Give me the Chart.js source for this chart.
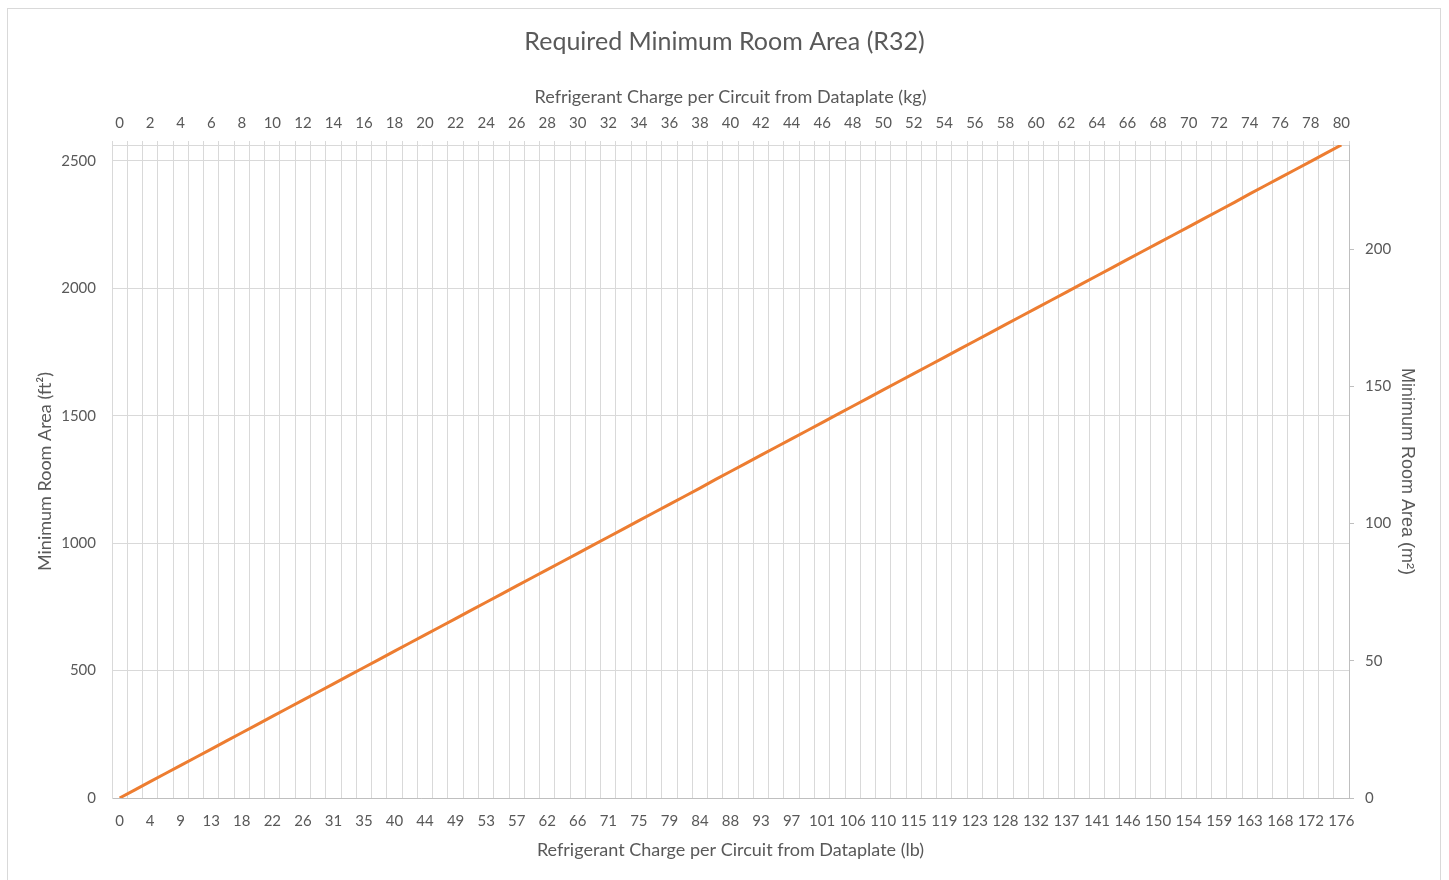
<!DOCTYPE html>
<html>
<head>
<meta charset="utf-8">
<title>Required Minimum Room Area (R32)</title>
<script src="https://cdn.jsdelivr.net/npm/chart.js@4/dist/chart.umd.min.js"></script>
<style>
  html, body { margin: 0; padding: 0; background: #ffffff; overflow: hidden; }
  canvas { display: block; }
</style>
</head>
<body>
<canvas id="chart" width="1449" height="880"></canvas>
<script>
// Refrigerant charge per circuit, one category per kg
const chargeKg = [
  0, 1, 2, 3, 4, 5, 6, 7, 8, 9, 10, 11, 12, 13, 14, 15, 16, 17, 18, 19, 20,
  21, 22, 23, 24, 25, 26, 27, 28, 29, 30, 31, 32, 33, 34, 35, 36, 37, 38, 39, 40,
  41, 42, 43, 44, 45, 46, 47, 48, 49, 50, 51, 52, 53, 54, 55, 56, 57, 58, 59, 60,
  61, 62, 63, 64, 65, 66, 67, 68, 69, 70, 71, 72, 73, 74, 75, 76, 77, 78, 79, 80
];

// Same charges in pounds, labelled on every second kg
const chargeLbLabels = [
  0, 4, 9, 13, 18, 22, 26, 31, 35, 40, 44, 49, 53, 57, 62, 66, 71, 75, 79, 84,
  88, 93, 97, 101, 106, 110, 115, 119, 123, 128, 132, 137, 141, 146, 150, 154,
  159, 163, 168, 172, 176
];

// Required minimum room area (ft²) for each kg of charge
const minAreaFt2 = [
  0, 32, 64, 96, 128, 160, 192, 224, 256, 288, 320,
  352, 384, 416, 448, 480, 512, 544, 576, 608, 640,
  672, 704, 736, 768, 800, 832, 864, 896, 928, 960,
  992, 1024, 1056, 1088, 1120, 1152, 1184, 1216, 1249, 1281,
  1313, 1345, 1377, 1409, 1441, 1473, 1505, 1537, 1569, 1601,
  1633, 1665, 1697, 1729, 1761, 1793, 1825, 1857, 1889, 1921,
  1953, 1985, 2017, 2049, 2081, 2113, 2145, 2177, 2209, 2241,
  2273, 2305, 2337, 2370, 2402, 2434, 2466, 2498, 2530, 2562
];

// Value axes: ft² on the left, m² on the right
const ft2AxisMax = 2562;
const ft2Ticks = [0, 500, 1000, 1500, 2000, 2500];
const m2AxisMax = 238;
const m2Ticks = [0, 50, 100, 150, 200];

const kgLabels = chargeKg.map(String);
const lbLabels = chargeKg.map((kg, i) => (i % 2 === 0 ? String(chargeLbLabels[i / 2]) : ''));

const TEXT = '#595959';
const GRID = '#d9d9d9';
const AXIS = '#bfbfbf';
const LATO = 'Lato, "Open Sans", sans-serif';

const fixedTicks = (values) => (scale) => { scale.ticks = values.map((v) => ({ value: v })); };

const frame = {
  id: 'frame',
  beforeDraw(chart) {
    const ctx = chart.ctx;
    ctx.save();
    ctx.fillStyle = '#ffffff';
    ctx.fillRect(0, 0, chart.width, chart.height);
    ctx.strokeStyle = GRID;
    ctx.lineWidth = 1;
    ctx.strokeRect(7.5, 8.5, 1433, 900);
    ctx.restore();
  }
};

new Chart(document.getElementById('chart'), {
  type: 'line',
  data: {
    labels: lbLabels,
    datasets: [{
      label: 'Minimum Room Area (ft²)',
      data: minAreaFt2,
      xAxisID: 'x',
      yAxisID: 'y',
      borderColor: '#ED7D31',
      backgroundColor: '#ED7D31',
      borderWidth: 3,
      pointRadius: 0,
      pointHoverRadius: 0,
      tension: 0,
      fill: false
    }]
  },
  options: {
    responsive: false,
    animation: false,
    events: [],
    layout: { padding: { left: 8, right: 8, top: 0, bottom: 0 } },
    plugins: {
      legend: { display: false },
      tooltip: { enabled: false },
      title: {
        display: true,
        text: 'Required Minimum Room Area (R32)',
        color: TEXT,
        font: { family: LATO, size: 25, weight: 'normal' },
        padding: { top: 27, bottom: 0 }
      }
    },
    scales: {
      x: {
        type: 'category',
        position: 'bottom',
        labels: lbLabels,
        offset: true,
        grid: { display: false, offset: true, drawTicks: false },
        border: { display: true, color: AXIS, width: 1 },
        ticks: {
          autoSkip: false, maxRotation: 0, minRotation: 0,
          color: TEXT, font: { family: LATO, size: 15 }, padding: 14
        },
        title: {
          display: true,
          text: 'Refrigerant Charge per Circuit from Dataplate (lb)',
          color: TEXT,
          font: { family: LATO, size: 18 },
          padding: { top: 0, bottom: 19.5 }
        },
        afterFit(scale) { scale.height = 82; }
      },
      x2: {
        type: 'category',
        position: 'top',
        labels: kgLabels,
        offset: true,
        grid: { display: true, offset: true, color: GRID, lineWidth: 1, drawTicks: true, tickLength: 4, drawOnChartArea: true },
        border: { display: true, color: GRID, width: 1 },
        ticks: {
          autoSkip: false, maxRotation: 0, minRotation: 0,
          color: TEXT, font: { family: LATO, size: 15 }, padding: 8.5,
          callback(value, index) { return index % 2 === 0 ? kgLabels[index] : ''; }
        },
        title: {
          display: true,
          text: 'Refrigerant Charge per Circuit from Dataplate (kg)',
          color: TEXT,
          font: { family: LATO, size: 18 },
          padding: { top: 29.5, bottom: 0 }
        },
        afterFit(scale) { scale.height = 145 - 57; }
      },
      y: {
        type: 'linear',
        position: 'left',
        min: 0,
        max: ft2AxisMax,
        afterBuildTicks: fixedTicks(ft2Ticks),
        grid: { color: GRID, lineWidth: 1, drawTicks: false },
        border: { display: true, color: GRID, width: 1 },
        ticks: {
          color: TEXT, font: { family: LATO, size: 15 }, padding: 16,
          callback(value) { return String(value); }
        },
        title: {
          display: true,
          text: 'Minimum Room Area (ft²)',
          color: TEXT,
          font: { family: LATO, size: 18 },
          padding: { top: 26.5, bottom: 0 }
        },
        afterFit(scale) { scale.width = 104; }
      },
      y2: {
        type: 'linear',
        position: 'right',
        min: 0,
        max: m2AxisMax,
        afterBuildTicks: fixedTicks(m2Ticks),
        grid: { drawOnChartArea: false, drawTicks: true, tickLength: 5, color: AXIS },
        border: { display: true, color: AXIS, width: 1 },
        ticks: {
          color: TEXT, font: { family: LATO, size: 15 }, padding: 11,
          callback(value) { return String(value); }
        },
        title: {
          display: true,
          text: 'Minimum Room Area (m²)',
          color: TEXT,
          font: { family: '"Liberation Sans", Arial, sans-serif', size: 18 },
          padding: { top: 23, bottom: 0 }
        },
        afterFit(scale) { scale.width = 92; }
      }
    }
  },
  plugins: [frame]
});
</script>
</body>
</html>
